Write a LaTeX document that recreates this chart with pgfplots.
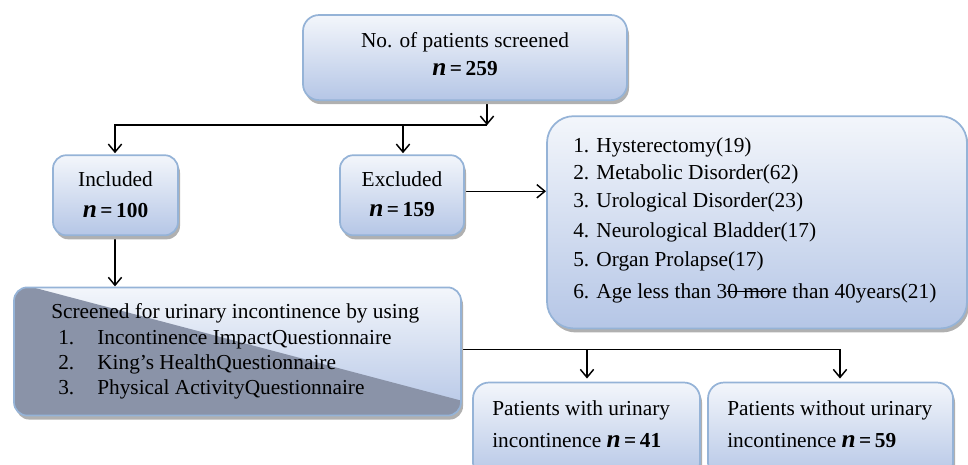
\documentclass[border=0pt]{standalone}
\usepackage{pgfplots}
\pgfplotsset{compat=1.18}
\usetikzlibrary{arrows.meta}
\usepackage{fontspec}
\setmainfont{Liberation Serif}
\newcommand{\strike}[1]{\setbox0\hbox{#1}\rlap{\rule[0.28em]{\wd0}{0.7pt}}\box0}
\definecolor{bordc}{HTML}{95B3D7}
\definecolor{topc}{HTML}{F3F6FB}
\definecolor{botc}{HTML}{B5C6E6}
\definecolor{darkc}{HTML}{8A93A8}
\definecolor{shadc}{HTML}{B0B0B0}
% shadow + gradient rounded box: x1,y1,x2,y2,radius
\newcommand{\flowbox}[5]{%
  \fill[shadc, rounded corners=#5] (axis cs:#1+2,#2+4) rectangle (axis cs:#3+2,#4+4);
  \shade[top color=topc, bottom color=botc, rounded corners=#5] (axis cs:#1,#2) rectangle (axis cs:#3,#4);
  \draw[bordc, line width=1.3pt, rounded corners=#5] (axis cs:#1,#2) rectangle (axis cs:#3,#4);
}
\newcommand{\nn}[1]{\textbf{{\fontsize{19}{19}\selectfont\itshape n}\,=\,#1}}
\tikzset{txt/.style={inner sep=0pt, text height=11pt, text depth=3.5pt, font=\fontsize{16}{19}\selectfont}}
\begin{document}
\begin{tikzpicture}[font=\fontsize{16}{19}\selectfont]
\begin{axis}[
  hide axis, scale only axis,
  width=726pt, height=348pt,
  xmin=0, xmax=968, ymin=0, ymax=464,
  y dir=reverse,
]
\addplot[draw=none] coordinates {(0,0) (968,464)};
% connectors
\begin{scope}[line width=1.1pt, -{Straight Barb[length=6pt,width=10pt]}]
\draw (axis cs:487,100) -- (axis cs:487,125);
\draw (axis cs:487,125) -- (axis cs:115,125) -- (axis cs:115,153);
\draw (axis cs:403,125) -- (axis cs:403,153);
\draw (axis cs:460,191) -- (axis cs:546,191);
\draw (axis cs:115,235) -- (axis cs:115,286);
\draw (axis cs:461,349) -- (axis cs:840,349) -- (axis cs:840,378);
\draw (axis cs:587,349) -- (axis cs:587,378);
\end{scope}
% top box
\flowbox{303}{15}{627}{100}{12pt}
\node[txt] at (axis cs:465,42) {No. of patients screened};
\node[txt] at (axis cs:465,70) {\nn{259}};
% included / excluded
\flowbox{53}{155}{178}{235}{10pt}
\node[txt] at (axis cs:115.5,181) {Included};
\node[txt] at (axis cs:115.5,212) {\nn{100}};
\flowbox{340}{155}{464}{235}{10pt}
\node[txt] at (axis cs:402,181) {Excluded};
\node[txt] at (axis cs:402,211) {\nn{159}};
% exclusion list
\flowbox{547}{116}{967}{328}{20pt}
\begin{scope}[every node/.style={txt, anchor=west}]
\node at (axis cs:573,147) {1. Hysterectomy(19)};
\node at (axis cs:573,174) {2. Metabolic Disorder(62)};
\node at (axis cs:573,202) {3. Urological Disorder(23)};
\node at (axis cs:573,232) {4. Neurological Bladder(17)};
\node at (axis cs:573,261) {5. Organ Prolapse(17)};
\node at (axis cs:573,293) {6. Age less than 3\strike{0 mo}re than 40years(21)};
\end{scope}
% screened box
\fill[shadc, rounded corners=10pt] (axis cs:16,291) rectangle (axis cs:463,419);
\shade[top color=topc, bottom color=botc, rounded corners=10pt] (axis cs:14,287) rectangle (axis cs:461,415);
\begin{scope}
\clip[rounded corners=10pt] (axis cs:14,287) rectangle (axis cs:461,415);
\fill[darkc] (axis cs:10,287) -- (axis cs:33,287) -- (axis cs:461,400) -- (axis cs:461,420) -- (axis cs:10,420) -- cycle;
\end{scope}
\draw[bordc, line width=1.3pt, rounded corners=10pt] (axis cs:14,287) rectangle (axis cs:461,415);
\begin{scope}[every node/.style={txt, anchor=west}]
\node at (axis cs:51,313) {Screened for urinary incontinence by using};
\node at (axis cs:58,339) {1.};
\node at (axis cs:97,339) {Incontinence ImpactQuestionnaire};
\node at (axis cs:58,364) {2.};
\node at (axis cs:97,364) {King’s HealthQuestionnaire};
\node at (axis cs:58,389) {3.};
\node at (axis cs:97,389) {Physical ActivityQuestionnaire};
\end{scope}
% outcome boxes
\flowbox{473}{382}{700}{478}{12pt}
\flowbox{708}{382}{953}{478}{12pt}
\begin{scope}[every node/.style={txt, anchor=west}]
\node at (axis cs:492,410) {Patients with urinary};
\node at (axis cs:492,442) {incontinence \nn{41}};
\node at (axis cs:727,410) {Patients without urinary};
\node at (axis cs:727,442) {incontinence \nn{59}};
\end{scope}
\end{axis}
\end{tikzpicture}
\end{document}
